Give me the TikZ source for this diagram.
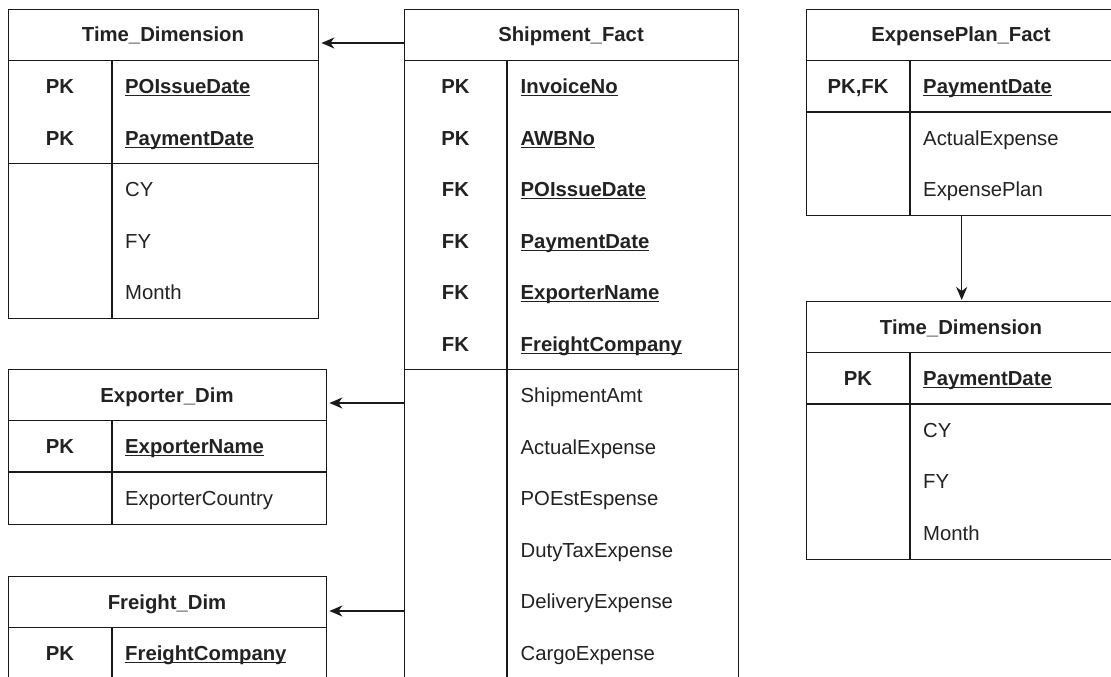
\documentclass[tikz,border=0pt]{standalone}
\usepackage{fontspec}
\setmainfont{Liberation Sans}
\usetikzlibrary{arrows.meta}
\definecolor{lc}{HTML}{1A1A1A}
\definecolor{tc}{HTML}{222222}
\newcommand\keyul[1]{\setbox0\hbox{#1}\rlap{\rule[-2.6pt]{\wd0}{0.9pt}}\box0}
\begin{document}
\begin{tikzpicture}[x=1pt,y=-1pt,
  tbl/.style={draw=lc, line width=1.4pt, inner sep=0pt, anchor=north west},
  tline/.style={draw=lc, line width=1.4pt},
  hdr/.style={font=\fontsize{20.3}{24}\selectfont\bfseries, text=tc, inner sep=0pt, text height=14.5pt, text depth=0pt},
  keytxt/.style={hdr},
  attr/.style={font=\fontsize{20.3}{24}\selectfont, text=tc, inner sep=0pt, anchor=west, text height=14.5pt, text depth=0pt},
  keyattr/.style={attr, font=\fontsize{20.3}{24}\selectfont\bfseries},
  arr/.style={draw=lc, line width=1.4pt, -{Stealth[length=13pt,width=11pt,inset=4pt]}}]
\useasboundingbox (0,0) rectangle (1111,677);
\fill[white] (0,0) rectangle (1111,677);
\begin{scope}
\clip (0,0) rectangle (1111,677);

% ---------- Time_Dimension (left)
\node[tbl, minimum width=310pt, minimum height=309pt] (tl) at (8,9) {};
\draw[tline] (8,60.5) -- (318,60.5) (8,163.5) -- (318,163.5) (112,60.5) -- (112,318);
\node[hdr] (tl-h) at (163,34.75) {Time\_Dimension};
\node[keytxt] (tl-k1) at (60,86.25) {PK};
\node[keytxt] (tl-k2) at (60,137.75) {PK};
\node[keyattr] (tl-a1) at (125,86.25) {\keyul{POIssueDate}};
\node[keyattr] (tl-a2) at (125,137.75) {\keyul{PaymentDate}};
\node[attr] (tl-a3) at (125,189.25) {CY};
\node[attr] (tl-a4) at (125,240.75) {FY};
\node[attr] (tl-a5) at (125,292.25) {Month};

% ---------- Shipment_Fact
\node[tbl, minimum width=334pt, minimum height=669.5pt] (sf) at (404,9) {};
\draw[tline] (404,60.5) -- (738,60.5) (404,369.5) -- (738,369.5) (507,60.5) -- (507,678.5);
\node[hdr] (sf-h) at (571,34.75) {Shipment\_Fact};
\node[keytxt] (sf-k1) at (455.5,86.25) {PK};
\node[keytxt] (sf-k2) at (455.5,137.75) {PK};
\node[keytxt] (sf-k3) at (455.5,189.25) {FK};
\node[keytxt] (sf-k4) at (455.5,240.75) {FK};
\node[keytxt] (sf-k5) at (455.5,292.25) {FK};
\node[keytxt] (sf-k6) at (455.5,343.75) {FK};
\node[keyattr] (sf-a1) at (520.5,86.25) {\keyul{InvoiceNo}};
\node[keyattr] (sf-a2) at (520.5,137.75) {\keyul{AWBNo}};
\node[keyattr] (sf-a3) at (520.5,189.25) {\keyul{POIssueDate}};
\node[keyattr] (sf-a4) at (520.5,240.75) {\keyul{PaymentDate}};
\node[keyattr] (sf-a5) at (520.5,292.25) {\keyul{ExporterName}};
\node[keyattr] (sf-a6) at (520.5,343.75) {\keyul{FreightCompany}};
\node[attr] (sf-a7) at (520.5,395.25) {ShipmentAmt};
\node[attr] (sf-a8) at (520.5,446.75) {ActualExpense};
\node[attr] (sf-a9) at (520.5,498.25) {POEstEspense};
\node[attr] (sf-a10) at (520.5,549.75) {DutyTaxExpense};
\node[attr] (sf-a11) at (520.5,601.25) {DeliveryExpense};
\node[attr] (sf-a12) at (520.5,652.75) {CargoExpense};

% ---------- Exporter_Dim
\node[tbl, minimum width=318pt, minimum height=154.5pt] (ed) at (8,369) {};
\draw[tline] (8,420.5) -- (326,420.5) (8,472) -- (326,472) (112,420.5) -- (112,523.5);
\node[hdr] (ed-h) at (167,394.75) {Exporter\_Dim};
\node[keytxt] (ed-k1) at (60,446.25) {PK};
\node[keyattr] (ed-a1) at (125,446.25) {\keyul{ExporterName}};
\node[attr] (ed-a2) at (125,497.75) {ExporterCountry};

% ---------- Freight_Dim
\node[tbl, minimum width=318pt, minimum height=164pt] (fd) at (8,576) {};
\draw[tline] (8,627.5) -- (326,627.5) (8,679) -- (326,679) (112,627.5) -- (112,740);
\node[hdr] (fd-h) at (167,601.75) {Freight\_Dim};
\node[keytxt] (fd-k1) at (60,653.25) {PK};
\node[keyattr] (fd-a1) at (125,653.25) {\keyul{FreightCompany}};

% ---------- ExpensePlan_Fact
\node[tbl, minimum width=310pt, minimum height=206pt] (ef) at (806,9) {};
\draw[tline] (806,60.5) -- (1116,60.5) (806,112) -- (1116,112) (910,60.5) -- (910,215);
\node[hdr] (ef-h) at (961,34.75) {ExpensePlan\_Fact};
\node[keytxt] (ef-k1) at (858,86.25) {PK,FK};
\node[keyattr] (ef-a1) at (923,86.25) {\keyul{PaymentDate}};
\node[attr] (ef-a2) at (923,137.75) {ActualExpense};
\node[attr] (ef-a3) at (923,189.25) {ExpensePlan};

% ---------- Time_Dimension (right)
\node[tbl, minimum width=310pt, minimum height=257.5pt] (tr) at (806,301) {};
\draw[tline] (806,352.5) -- (1116,352.5) (806,404) -- (1116,404) (910,352.5) -- (910,558.5);
\node[hdr] (tr-h) at (961,326.75) {Time\_Dimension};
\node[keytxt] (tr-k1) at (858,378.25) {PK};
\node[keyattr] (tr-a1) at (923,378.25) {\keyul{PaymentDate}};
\node[attr] (tr-a2) at (923,429.75) {CY};
\node[attr] (tr-a3) at (923,481.25) {FY};
\node[attr] (tr-a4) at (923,532.75) {Month};

% ---------- connectors
\draw[arr, shorten >=2pt] (sf.west |- 0,43) -- (tl.east |- 0,43);
\draw[arr, shorten >=2pt] (sf.west |- 0,403) -- (ed.east |- 0,403);
\draw[arr, shorten >=2pt] (sf.west |- 0,611) -- (fd.east |- 0,611);
\draw[arr, shorten >=1pt] (ef.south) -- (tr.north);
\end{scope}
\end{tikzpicture}
\end{document}
